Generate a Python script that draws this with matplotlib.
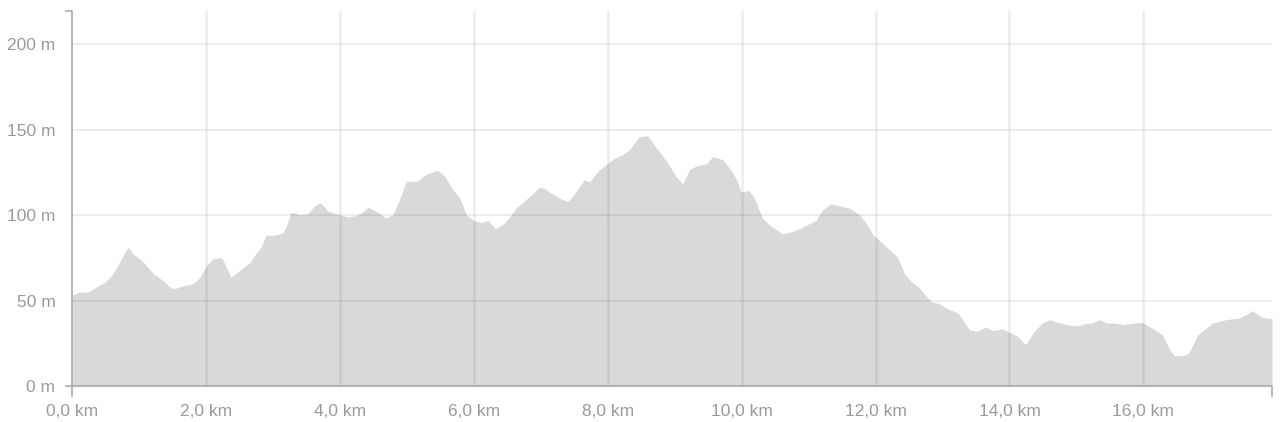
import matplotlib
matplotlib.use("Agg")
import matplotlib.pyplot as plt
from matplotlib.lines import Line2D

distance_km = [
    0.00, 0.11, 0.24, 0.36, 0.49, 0.59, 0.66, 0.74, 0.84, 0.91, 1.01, 1.08, 1.21, 1.36,
    1.48, 1.56, 1.68, 1.81, 1.91, 2.00, 2.10, 2.23, 2.28, 2.37, 2.45, 2.58, 2.65, 2.75,
    2.83, 2.90, 3.00, 3.15, 3.20, 3.27, 3.40, 3.52, 3.62, 3.71, 3.82, 3.95, 4.12, 4.22,
    4.32, 4.42, 4.57, 4.69, 4.79, 4.89, 4.99, 5.16, 5.29, 5.46, 5.56, 5.69, 5.79, 5.89,
    5.99, 6.11, 6.21, 6.32, 6.43, 6.52, 6.63, 6.86, 6.98, 7.05, 7.15, 7.28, 7.40, 7.48,
    7.58, 7.65, 7.73, 7.85, 7.97, 8.10, 8.22, 8.32, 8.47, 8.60, 8.75, 8.90, 9.02, 9.12,
    9.22, 9.32, 9.47, 9.57, 9.72, 9.84, 9.94, 9.99, 10.11, 10.19, 10.31, 10.44, 10.61,
    10.71, 10.86, 11.01, 11.11, 11.21, 11.33, 11.46, 11.61, 11.76, 11.86, 11.96, 12.06,
    12.20, 12.33, 12.43, 12.53, 12.63, 12.73, 12.83, 12.95, 13.08, 13.23, 13.30, 13.40,
    13.52, 13.64, 13.75, 13.89, 14.00, 14.12, 14.24, 14.37, 14.50, 14.60, 14.75, 14.94,
    15.04, 15.14, 15.21, 15.34, 15.46, 15.59, 15.69, 15.84, 15.98, 16.13, 16.28, 16.38,
    16.46, 16.58, 16.68, 16.81, 16.91, 17.03, 17.23, 17.43, 17.53, 17.63, 17.76, 17.92,
]
elevation_m = [
    53.4, 54.8, 55.0, 57.9, 60.6, 64.5, 69.0, 74.5, 81.5, 77.4, 74.5, 71.9, 66.0, 61.6,
    57.3, 57.3, 58.9, 59.8, 63.7, 70.0, 74.3, 75.2, 71.9, 63.7, 66.0, 70.0, 72.0, 77.8,
    81.7, 88.5, 88.0, 89.5, 93.4, 101.6, 100.2, 100.8, 105.5, 107.4, 102.5, 100.6, 99.0, 99.6,
    101.2, 104.7, 101.6, 98.2, 100.2, 109.0, 119.7, 120.0, 124.0, 126.3, 123.0, 114.8, 110.0, 100.2,
    96.9, 95.7, 96.9, 92.2, 94.3, 98.2, 104.0, 111.9, 116.4, 115.8, 112.9, 110.0, 108.0, 110.9,
    116.8, 120.7, 119.5, 125.5, 129.4, 133.3, 135.3, 138.2, 146.0, 146.4, 138.2, 130.4, 122.6, 118.3,
    126.5, 128.8, 130.0, 134.3, 132.4, 126.5, 119.7, 113.5, 114.4, 110.0, 98.2, 93.4, 89.1,
    89.9, 92.0, 95.0, 96.9, 103.1, 106.6, 105.5, 104.1, 100.2, 95.3, 88.5, 85.2,
    80.1, 75.4, 65.7, 61.2, 58.3, 53.8, 49.5, 48.1, 45.2, 42.7, 38.8, 32.9,
    32.0, 34.5, 32.4, 33.5, 31.4, 29.0, 24.2, 32.0, 37.2, 38.8, 36.8, 35.3,
    35.3, 36.8, 36.5, 38.8, 36.8, 36.8, 35.9, 36.8, 37.2, 33.9, 30.0, 22.2,
    17.7, 17.7, 19.3, 30.0, 32.9, 36.8, 38.8, 39.8, 41.7, 44.1, 40.4, 39.4,
]

x_ticks = [0, 2, 4, 6, 8, 10, 12, 14, 16]
x_tick_labels = ["0,0 km", "2,0 km", "4,0 km", "6,0 km", "8,0 km",
                 "10,0 km", "12,0 km", "14,0 km", "16,0 km"]
y_ticks = [0, 50, 100, 150, 200]
y_tick_labels = ["0 m", "50 m", "100 m", "150 m", "200 m"]

plt.rcParams['font.family'] = ['Liberation Sans', 'DejaVu Sans']

W, H = 1282, 422
fig = plt.figure(figsize=(W / 100, H / 100), dpi=100)
left, right, bottom, top = 72, 1272, 386, 11
ax = fig.add_axes([left / W, (H - bottom) / H, (right - left) / W, (bottom - top) / H])

x_max = distance_km[-1]
ax.set_xlim(0, x_max)
ax.set_ylim(0, 219.5)

ax.fill_between(distance_km, elevation_m, 0, color='#d9d9d9', linewidth=0, zorder=1)

# grid lines (drawn over the fill, darkening it slightly)
for xv in x_ticks[1:]:
    ax.axvline(xv, color='black', alpha=0.065, linewidth=2, zorder=2)
for yv in y_ticks[1:]:
    ax.axhline(yv, color='black', alpha=0.065, linewidth=1.5, zorder=2)

for s in ax.spines.values():
    s.set_visible(False)

ax.set_xticks(x_ticks)
ax.set_xticklabels(x_tick_labels)
ax.set_yticks(y_ticks)
ax.set_yticklabels(y_tick_labels)
ax.tick_params(axis='both', length=0, labelsize=12.5, colors='#9a9a9a')
ax.tick_params(axis='x', pad=13)
ax.tick_params(axis='y', pad=12)

# d3-style domain paths with outer ticks
axis_color = '#aaaaaa'
tick_px = 6
tx = tick_px / (right - left)
ty = tick_px / (bottom - top)
ax.add_line(Line2D([-tx, 0, 0, -tx], [1, 1, 0, 0], transform=ax.transAxes,
                   color=axis_color, linewidth=1.2, clip_on=False, zorder=3))
ax.add_line(Line2D([0, 0, 1, 1], [-ty * 1.6, 0, 0, -ty * 1.6], transform=ax.transAxes,
                   color=axis_color, linewidth=1.2, clip_on=False, zorder=3))

fig.savefig('out.png', dpi=100)
